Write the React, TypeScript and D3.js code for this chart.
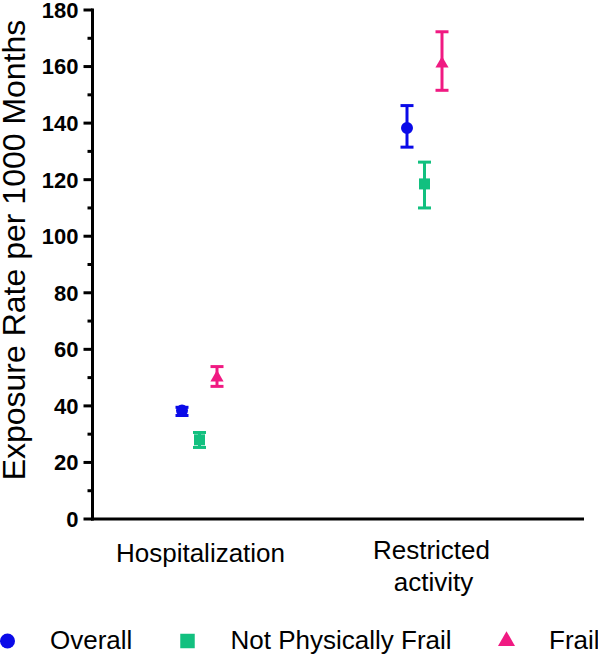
import React from "react";
import * as d3 from "d3";

const categories = ["Hospitalization", "Restricted activity"];
const seriesNames = ["Overall", "Not Physically Frail", "Frail"];
const seriesColors = ["#0a0ae8", "#12c07f", "#f01a82"];
const seriesSymbols = ["circle", "square", "triangle"];

// values per series, per category
const overallMean = [38.4, 138.3];
const overallLow = [36.6, 131.5];
const overallHigh = [39.5, 146.2];

const npfMean = [28.0, 118.5];
const npfLow = [25.3, 110.0];
const npfHigh = [30.6, 126.2];

const frailMean = [50.0, 161.0];
const frailLow = [46.9, 151.6];
const frailHigh = [53.9, 172.3];

const yTicks = [0, 20, 40, 60, 80, 100, 120, 140, 160, 180];
const yMinorTicks = [10, 30, 50, 70, 90, 110, 130, 150, 170];
const yTitle = "Exposure Rate per 1000 Months";

const W = 598;
const H = 655;
const FONT = "'Liberation Sans', Arial, Helvetica, sans-serif";

export default function App() {
  const y = d3.scaleLinear().domain([0, 180]).range([519, 10]);
  const x = d3.scalePoint<string>().domain(categories).range([199.5, 424.5]);
  const off = d3.scalePoint<string>().domain(seriesNames).range([-17.5, 17.5]);
  const axisX = 92.5;
  const axisRight = 584;

  const series = [
    { name: seriesNames[0], mean: overallMean, low: overallLow, high: overallHigh },
    { name: seriesNames[1], mean: npfMean, low: npfLow, high: npfHigh },
    { name: seriesNames[2], mean: frailMean, low: frailLow, high: frailHigh },
  ];

  const symbolPath = (kind: string, size: number) => {
    const t =
      kind === "circle" ? d3.symbolCircle : kind === "square" ? d3.symbolSquare : d3.symbolTriangle;
    return d3.symbol().type(t).size(size)() as string;
  };
  const chartSizes: Record<string, number> = { circle: 113, square: 121, triangle: 75 };
  const legendSizes: Record<string, number> = { circle: 177, square: 210, triangle: 125 };

  const labelDx = [1, 7];
  const legendItems = [
    { mx: 7.5, tx: 50 },
    { mx: 187.5, tx: 230.5 },
    { mx: 506.5, tx: 549 },
  ];

  return (
    <svg
      width={W}
      height={H}
      style={{ position: "absolute", left: 0, top: 0, background: "#fff" }}
      fontFamily={FONT}
    >
      {/* y axis */}
      <line x1={axisX} x2={axisX} y1={y(180) - 1.5} y2={y(0) + 1.5} stroke="#000" strokeWidth={3} />
      <line x1={axisX - 1.5} x2={axisRight} y1={y(0)} y2={y(0)} stroke="#000" strokeWidth={3} />
      {yTicks.map((t) => (
        <g key={"t" + t}>
          <line x1={axisX - 9} x2={axisX} y1={y(t)} y2={y(t)} stroke="#000" strokeWidth={3} />
          <text
            x={78.5}
            y={y(t)}
            dy="0.36em"
            textAnchor="end"
            fontWeight="bold"
            fontSize={22}
            fill="#000"
          >
            {t}
          </text>
        </g>
      ))}
      {yMinorTicks.map((t) => (
        <line key={"m" + t} x1={axisX - 5} x2={axisX} y1={y(t)} y2={y(t)} stroke="#000" strokeWidth={3} />
      ))}
      <text
        transform={`translate(24.5,250) rotate(-90)`}
        textAnchor="middle"
        fontSize={32}
        fill="#000"
      >
        {yTitle}
      </text>

      {/* category labels */}
      <text x={x(categories[0])! + labelDx[0]} y={562} textAnchor="middle" fontSize={26} fill="#000">
        Hospitalization
      </text>
      <text x={x(categories[1])! + labelDx[1]} y={559} textAnchor="middle" fontSize={26} fill="#000">
        <tspan x={x(categories[1])! + labelDx[1]}>Restricted</tspan>
        <tspan x={x(categories[1])! + labelDx[1] + 2} dy={32}>
          activity
        </tspan>
      </text>

      {/* data */}
      {series.map((s, si) =>
        categories.map((c, ci) => {
          const cx = x(c)! + off(s.name)!;
          const color = seriesColors[si];
          return (
            <g key={s.name + c}>
              <line x1={cx} x2={cx} y1={y(s.low[ci])} y2={y(s.high[ci])} stroke={color} strokeWidth={3} />
              <line x1={cx - 6.5} x2={cx + 6.5} y1={y(s.low[ci])} y2={y(s.low[ci])} stroke={color} strokeWidth={3} />
              <line x1={cx - 6.5} x2={cx + 6.5} y1={y(s.high[ci])} y2={y(s.high[ci])} stroke={color} strokeWidth={3} />
              <path
                d={symbolPath(seriesSymbols[si], chartSizes[seriesSymbols[si]])}
                transform={`translate(${cx},${y(s.mean[ci])})`}
                fill={color}
              />
            </g>
          );
        })
      )}

      {/* legend */}
      {seriesNames.map((n, i) => (
        <g key={"lg" + n}>
          <path
            d={symbolPath(seriesSymbols[i], legendSizes[seriesSymbols[i]])}
            transform={`translate(${legendItems[i].mx},${641})`}
            fill={seriesColors[i]}
          />
          <text x={legendItems[i].tx} y={649} fontSize={26} fill="#000">
            {n}
          </text>
        </g>
      ))}
    </svg>
  );
}
